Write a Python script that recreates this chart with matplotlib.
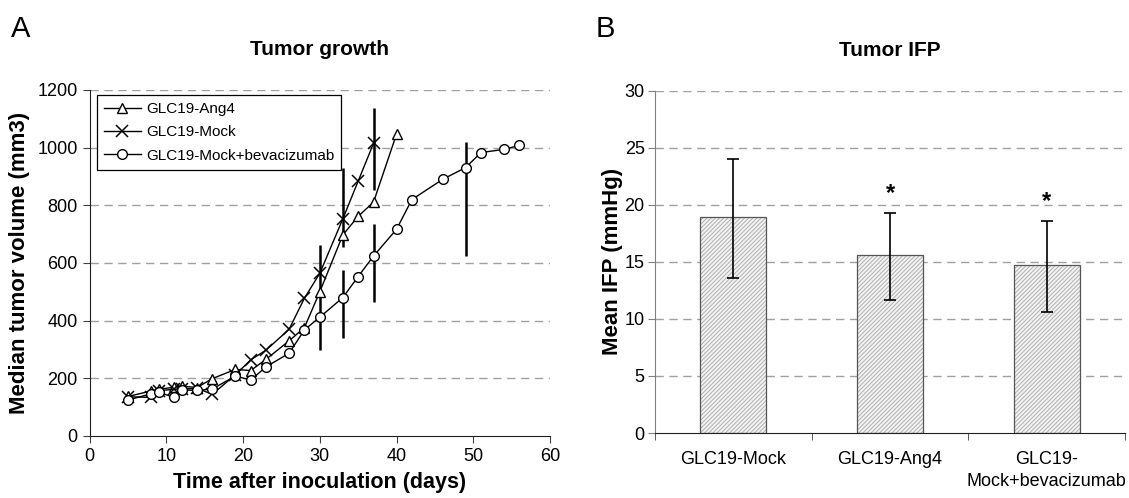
import numpy as np
import matplotlib
matplotlib.use("Agg")
import matplotlib.pyplot as plt

plt.rcParams['font.family'] = ['Liberation Sans', 'DejaVu Sans']
plt.rcParams['hatch.linewidth'] = 0.7

# --- panel A: tumor growth ---
days_ang4 = [5, 8, 9, 11, 12, 14, 16, 19, 21, 23, 26, 28, 30, 33, 35, 37, 40]
vol_ang4 = [137, 156, 162, 169, 173, 168, 199, 231, 227, 266, 330, 376, 500, 697, 762, 811, 1047]
days_mock = [5, 8, 9, 11, 12, 14, 16, 19, 21, 23, 26, 28, 30, 33, 35, 37]
vol_mock = [136, 134, 157, 162, 163, 165, 145, 212, 264, 298, 370, 478, 564, 753, 884, 1015]
days_bev = [5, 8, 9, 11, 12, 14, 16, 19, 21, 23, 26, 28, 30, 33, 35, 37, 40, 42, 46, 49, 51, 54, 56]
vol_bev = [125, 146, 152, 134, 160, 158, 163, 208, 194, 240, 287, 368, 412, 480, 553, 624, 717, 820, 890, 931, 983, 994, 1008]

# error bars (day, series value, low, high)
err_days = [30, 33, 37, 33, 37, 49]
err_mid = [500, 753, 1015, 480, 624, 931]
err_low = [298, 657, 853, 340, 466, 624]
err_high = [662, 928, 1138, 576, 735, 1021]

# --- panel B: tumor IFP ---
groups = ['GLC19-Mock', 'GLC19-Ang4', 'GLC19-\nMock+bevacizumab']
ifp_mean = [18.9, 15.6, 14.7]
ifp_low = [13.6, 11.7, 10.6]
ifp_high = [24.0, 19.3, 18.6]
signif = ['', '*', '*']
star_y = [0, 21.0, 20.3]

fig = plt.figure(figsize=(11.29, 4.98), dpi=100)

grid_kw = dict(color='#a0a0a0', linestyle=(0, (6, 4)), linewidth=1.0)

# ---------- A ----------
ax = fig.add_axes([0.0793, 0.1245, 0.4079, 0.6948])
ax.plot(days_ang4, vol_ang4, color='black', lw=1, marker='^', ms=7,
        mfc='white', mec='black', mew=1, label='GLC19-Ang4', zorder=3)
ax.plot(days_mock, vol_mock, color='black', lw=1, marker='x', ms=8,
        mec='black', mew=1.1, label='GLC19-Mock', zorder=3)
ax.plot(days_bev, vol_bev, color='black', lw=1, marker='o', ms=7,
        mfc='white', mec='black', mew=1, label='GLC19-Mock+bevacizumab', zorder=3)
yerr = [np.array(err_mid) - np.array(err_low), np.array(err_high) - np.array(err_mid)]
ax.errorbar(err_days, err_mid, yerr=yerr, fmt='none', ecolor='black',
            elinewidth=1.8, capsize=0, zorder=2)

ax.set_xlim(0, 60)
ax.set_ylim(0, 1200)
ax.set_xticks(range(0, 61, 10))
ax.set_yticks(range(0, 1201, 200))
for v in range(200, 1201, 200):
    ax.axhline(v, zorder=0, **grid_kw)
for s in ['top', 'right']:
    ax.spines[s].set_visible(False)
for s in ['left', 'bottom']:
    ax.spines[s].set_color('#202020')
ax.tick_params(direction='out', length=5, labelsize=13, color='#404040')
ax.set_xlabel('Time after inoculation (days)', fontsize=15.5, fontweight='bold', labelpad=5)
ax.set_ylabel('Median tumor volume (mm3)', fontsize=16, fontweight='bold', labelpad=5)
ax.set_title('Tumor growth', fontsize=15, fontweight='bold', pad=25)
leg = ax.legend(loc='upper left', bbox_to_anchor=(0.0163, 0.9855), fontsize=11,
                frameon=True, fancybox=False, edgecolor='black', framealpha=1,
                borderpad=0.45, borderaxespad=0, handlelength=2.4,
                labelspacing=0.62, handletextpad=0.35)
leg.get_frame().set_linewidth(0.9)

# ---------- B ----------
bx = fig.add_axes([0.5802, 0.1305, 0.4163, 0.6873])
xpos = np.arange(len(groups))
bx.bar(xpos, ifp_mean, width=0.42, color='#f3f3f3', edgecolor='#b0b0b0',
       hatch='////////', linewidth=0, zorder=2)
bx.bar(xpos, ifp_mean, width=0.42, fill=False, edgecolor='#555555',
       linewidth=0.9, zorder=3)
berr = [np.array(ifp_mean) - np.array(ifp_low), np.array(ifp_high) - np.array(ifp_mean)]
bx.errorbar(xpos, ifp_mean, yerr=berr, fmt='none', ecolor='black',
            elinewidth=1.2, capsize=4, capthick=1.2, zorder=4)
for i, s in enumerate(signif):
    if s:
        bx.text(xpos[i], star_y[i], s, ha='center', va='center',
                fontsize=17, fontweight='bold')

bx.set_xlim(-0.5, len(groups) - 0.5)
bx.set_ylim(0, 30)
bx.set_yticks(range(0, 31, 5))
for v in range(5, 31, 5):
    bx.axhline(v, zorder=0, **grid_kw)
bx.set_xticks(xpos)
bx.set_xticklabels(groups, fontsize=13, linespacing=1.4)
bx.set_xticks(np.arange(-0.5, len(groups), 1), minor=True)
bx.tick_params(axis='x', which='major', length=0, pad=13)
bx.tick_params(axis='x', which='minor', length=5, direction='out', color='#404040')
bx.tick_params(axis='y', direction='out', length=5, labelsize=13, color='#808080', pad=2.5)
for s in ['top', 'right']:
    bx.spines[s].set_visible(False)
bx.spines['left'].set_color('#808080')
bx.spines['bottom'].set_color('#202020')
bx.set_ylabel('Mean IFP (mmHg)', fontsize=16, fontweight='bold', labelpad=1)
bx.set_title('Tumor IFP', fontsize=15, fontweight='bold', pad=25)

fig.text(0.010, 0.925, 'A', fontsize=21)
fig.text(0.528, 0.925, 'B', fontsize=21)

fig.savefig('out.png', dpi=100)
